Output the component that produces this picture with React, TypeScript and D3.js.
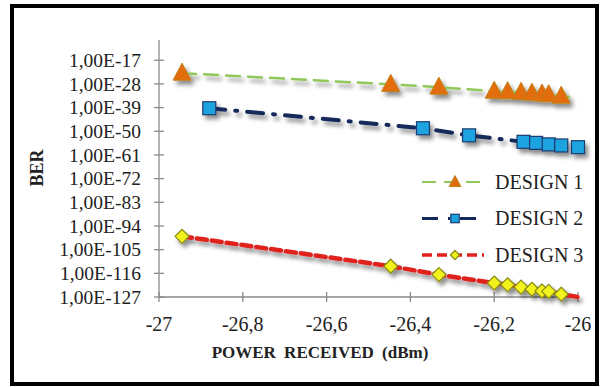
import React, { useEffect, useRef } from 'react';
import * as d3 from 'd3';

// received power (dBm) and BER exponent (BER = 1,00E<exp>)
const design1X = [-26.945, -26.447, -26.332, -26.2, -26.168, -26.136, -26.11, -26.086, -26.07, -26.04, -26.02];
const design1Y = [-23, -28.2, -29.5, -31.4, -31.6, -31.9, -32.3, -32.7, -33, -33.7, -34];
const design2X = [-26.88, -26.37, -26.26, -26.13, -26.1, -26.07, -26.04, -26.0];
const design2Y = [-39.3, -48.6, -51.9, -54.9, -55.4, -56.1, -56.6, -57.4];
const design3X = [-26.945, -26.447, -26.332, -26.2, -26.168, -26.136, -26.11, -26.086, -26.07, -26.04, -26.0];
const design3Y = [-98.8, -112.7, -116.6, -120.5, -121.3, -122.4, -123.4, -124.2, -124.4, -125.7, -127];
// the last point of series 1 and 3 carries the line only, no marker
const markedPoints = [10, 8, 10];

const seriesNames = ['DESIGN 1', 'DESIGN 2', 'DESIGN 3'];
const xTicks = [-27, -26.8, -26.6, -26.4, -26.2, -26];
const yTicks = [-127, -116, -105, -94, -83, -72, -61, -50, -39, -28, -17];

const App = () => {
  const svgRef = useRef<SVGSVGElement>(null);

  useEffect(() => {
    const svg = d3.select(svgRef.current);
    svg.selectAll('*').remove();

    const font = "'Liberation Serif', Tinos, 'DejaVu Serif', serif";
    const x = d3.scaleLinear().domain([-27, -26]).range([159, 578]);
    const y = d3.scaleLinear().domain([-127, -7.6]).range([297, 40]);

    svg.append('rect').attr('width', 600).attr('height', 387).attr('fill', '#fff');

    const defs = svg.append('defs');
    const shadow = defs.append('filter').attr('id', 'shadow')
      .attr('x', '-50%').attr('y', '-50%').attr('width', '200%').attr('height', '200%');
    shadow.append('feDropShadow')
      .attr('dx', 3).attr('dy', 4).attr('stdDeviation', 2)
      .attr('flood-color', '#000').attr('flood-opacity', 0.45);

    // frame
    svg.append('rect')
      .attr('x', 12).attr('y', 6).attr('width', 585).attr('height', 378)
      .attr('fill', 'none').attr('stroke', '#000').attr('stroke-width', 4);

    // axes
    const axisColor = '#8a8a8a';
    svg.append('line')
      .attr('x1', x(-27)).attr('x2', x(-27)).attr('y1', y(-7.6)).attr('y2', y(-127))
      .attr('stroke', axisColor).attr('stroke-width', 1.3);
    svg.append('line')
      .attr('x1', x(-27)).attr('x2', x(-26)).attr('y1', y(-127)).attr('y2', y(-127))
      .attr('stroke', axisColor).attr('stroke-width', 1.3);

    svg.append('g').selectAll('line').data(yTicks).enter().append('line')
      .attr('x1', x(-27) - 5).attr('x2', x(-27) + 5)
      .attr('y1', d => y(d)).attr('y2', d => y(d))
      .attr('stroke', axisColor).attr('stroke-width', 1.3);
    svg.append('g').selectAll('text').data(yTicks).enter().append('text')
      .attr('x', 141).attr('y', d => y(d)).attr('dy', '0.35em')
      .attr('text-anchor', 'end')
      .attr('font-family', font).attr('font-size', 19.5).attr('fill', '#222')
      .text(d => `1,00E${d}`);

    svg.append('g').selectAll('line').data(xTicks).enter().append('line')
      .attr('x1', d => x(d)).attr('x2', d => x(d))
      .attr('y1', y(-127) - 5).attr('y2', y(-127) + 5)
      .attr('stroke', axisColor).attr('stroke-width', 1.3);
    svg.append('g').selectAll('text').data(xTicks).enter().append('text')
      .attr('x', d => x(d)).attr('y', 331)
      .attr('text-anchor', 'middle')
      .attr('font-family', font).attr('font-size', 20).attr('fill', '#222')
      .text(d => String(d).replace('.', ','));

    // axis titles
    svg.append('text')
      .attr('x', 320).attr('y', 358).attr('text-anchor', 'middle')
      .attr('font-family', font).attr('font-size', 17).attr('font-weight', 'bold')
      .attr('word-spacing', 4)
      .attr('fill', '#222')
      .text('POWER RECEIVED (dBm)');
    svg.append('text')
      .attr('transform', 'translate(43,168) rotate(-90)').attr('text-anchor', 'middle')
      .attr('font-family', font).attr('font-size', 18).attr('font-weight', 'bold')
      .attr('fill', '#222')
      .text('BER');

    const series = [
      { xs: design1X, ys: design1Y, color: '#92c85a', width: 2.5, dash: '14,8', marker: 'tri' },
      { xs: design2X, ys: design2Y, color: '#12295a', width: 4, dash: '16,10,2,10', marker: 'sq' },
      { xs: design3X, ys: design3Y, color: '#e0201c', width: 4.5, dash: '10,5', marker: 'dia' },
    ];

    const drawMarker = (g: any, kind: string, cx: number, cy: number, k = 1) => {
      if (kind === 'tri') {
        g.append('path')
          .attr('d', `M${cx},${cy - 10 * k}L${cx + 9 * k},${cy + 7 * k}L${cx - 9 * k},${cy + 7 * k}Z`)
          .attr('fill', '#e36c0a').attr('stroke', '#c0801a').attr('stroke-width', 1);
      } else if (kind === 'sq') {
        g.append('rect')
          .attr('x', cx - 6.5 * k).attr('y', cy - 6.5 * k).attr('width', 13 * k).attr('height', 13 * k)
          .attr('fill', '#1fa3e0').attr('stroke', '#1f3a6e').attr('stroke-width', 1.2);
      } else {
        g.append('path')
          .attr('d', `M${cx},${cy - 7 * k}L${cx + 7 * k},${cy}L${cx},${cy + 7 * k}L${cx - 7 * k},${cy}Z`)
          .attr('fill', '#f2f21c').attr('stroke', '#8a8a14').attr('stroke-width', 1.2);
      }
    };

    const line = d3.line<[number, number]>().x(d => x(d[0])).y(d => y(d[1]));

    series.forEach((s, i) => {
      const pts: [number, number][] = s.xs.map((v, j) => [v, s.ys[j]]);
      const g = svg.append('g').attr('filter', 'url(#shadow)');
      g.append('path')
        .attr('d', line(pts))
        .attr('fill', 'none').attr('stroke', s.color)
        .attr('stroke-width', s.width).attr('stroke-dasharray', s.dash)
        .attr('stroke-linecap', 'round');
      pts.slice(0, markedPoints[i]).forEach(p => drawMarker(g, s.marker, x(p[0]), y(p[1])));
    });

    // legend
    const legend = svg.append('g');
    series.forEach((s, i) => {
      const ly = 182 + i * 36.5;
      legend.append('line')
        .attr('x1', 422).attr('x2', 484).attr('y1', ly).attr('y2', ly)
        .attr('stroke', s.color).attr('stroke-width', s.width * 0.8)
        .attr('stroke-dasharray', s.dash);
      drawMarker(legend, s.marker, 455, ly, 0.65);
      legend.append('text')
        .attr('x', 495).attr('y', ly + 6.5)
        .attr('font-family', font).attr('font-size', 20).attr('fill', '#222')
        .text(seriesNames[i]);
    });
  }, []);

  return (
    <svg
      ref={svgRef}
      width={600}
      height={387}
      style={{ position: 'absolute', left: 0, top: 0, display: 'block' }}
    />
  );
};

export default App;
